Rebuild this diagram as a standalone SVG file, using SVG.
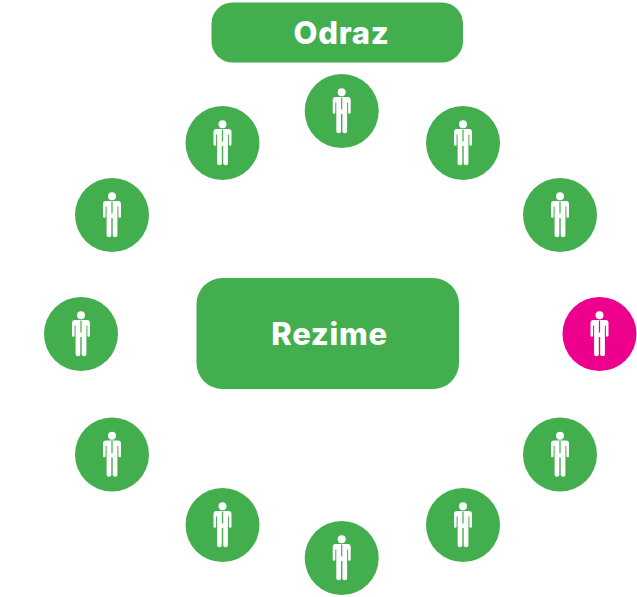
<svg xmlns="http://www.w3.org/2000/svg" width="637" height="597" viewBox="0 0 637 597">
<style>
.g{fill:#42ae4e}.p{fill:#ec008c}
.i{fill:#fff}
.t{fill:#fff;font-family:"Inter","Liberation Sans",sans-serif;font-weight:800;text-anchor:middle;font-size:31px;letter-spacing:.7px}
</style>
<defs>
<g id="man">
<circle class="i" cx="0" cy="-18.700" r="4"/>
<path class="i" d="M-6-14H6Q9-14 9-11V1.500Q9 2.800 7.700 2.800Q6.400 2.800 6.400 1.500V-8.500H5.400V20.500Q5.400 22.300 3.200 22.300Q0.700 22.300 0.700 20.500V3H-0.700V20.500Q-0.700 22.300-3 22.300Q-5.400 22.300-5.400 20.500V-8.500H-6.400V1.500Q-6.400 2.800-7.700 2.800Q-9 2.800-9 1.500V-11Q-9-14-6-14Z"/>
</g>
</defs>
<rect width="637" height="597" fill="#fff"/>
<g id="odraz"><rect class="g" x="211.500" y="2.500" width="251.500" height="60" rx="21"/><text class="t" x="341.500" y="44">Odraz</text></g>
<g id="rezime"><rect class="g" x="196.500" y="278" width="262.500" height="111" rx="26"/><text class="t" x="329.500" y="345">Rezime</text></g>
<g id="n1"><circle class="g" cx="341.700" cy="111" r="37"/><use href="#man" x="341.700" y="111"/><rect class="g" x="341.100" y="97.500" width="1.200" height="12"/></g>
<g id="n2"><circle class="g" cx="463" cy="143" r="37"/><use href="#man" x="463" y="143"/><rect class="g" x="462.400" y="129.500" width="1.200" height="12"/></g>
<g id="n3"><circle class="g" cx="560" cy="215" r="37"/><use href="#man" x="560" y="215"/><rect class="g" x="559.400" y="201.500" width="1.200" height="12"/></g>
<g id="n4"><circle class="p" cx="599.500" cy="334" r="37"/><use href="#man" x="599.500" y="334"/><rect class="p" x="598.900" y="320.500" width="1.200" height="12"/></g>
<g id="n5"><circle class="g" cx="560" cy="454.500" r="37"/><use href="#man" x="560" y="454.500"/><rect class="g" x="559.400" y="441" width="1.200" height="12"/></g>
<g id="n6"><circle class="g" cx="463" cy="525" r="37"/><use href="#man" x="463" y="525"/><rect class="g" x="462.400" y="511.500" width="1.200" height="12"/></g>
<g id="n7"><circle class="g" cx="341.700" cy="558" r="37"/><use href="#man" x="341.700" y="558"/><rect class="g" x="341.100" y="544.500" width="1.200" height="12"/></g>
<g id="n8"><circle class="g" cx="222.500" cy="525" r="37"/><use href="#man" x="222.500" y="525"/><rect class="g" x="221.900" y="511.500" width="1.200" height="12"/></g>
<g id="n9"><circle class="g" cx="112" cy="454.500" r="37"/><use href="#man" x="112" y="454.500"/><rect class="g" x="111.400" y="441" width="1.200" height="12"/></g>
<g id="n10"><circle class="g" cx="81" cy="334" r="37"/><use href="#man" x="81" y="334"/><rect class="g" x="80.400" y="320.500" width="1.200" height="12"/></g>
<g id="n11"><circle class="g" cx="112" cy="215" r="37"/><use href="#man" x="112" y="215"/><rect class="g" x="111.400" y="201.500" width="1.200" height="12"/></g>
<g id="n12"><circle class="g" cx="222.500" cy="143" r="37"/><use href="#man" x="222.500" y="143"/><rect class="g" x="221.900" y="129.500" width="1.200" height="12"/></g>
<g id="connectors"></g>
</svg>
